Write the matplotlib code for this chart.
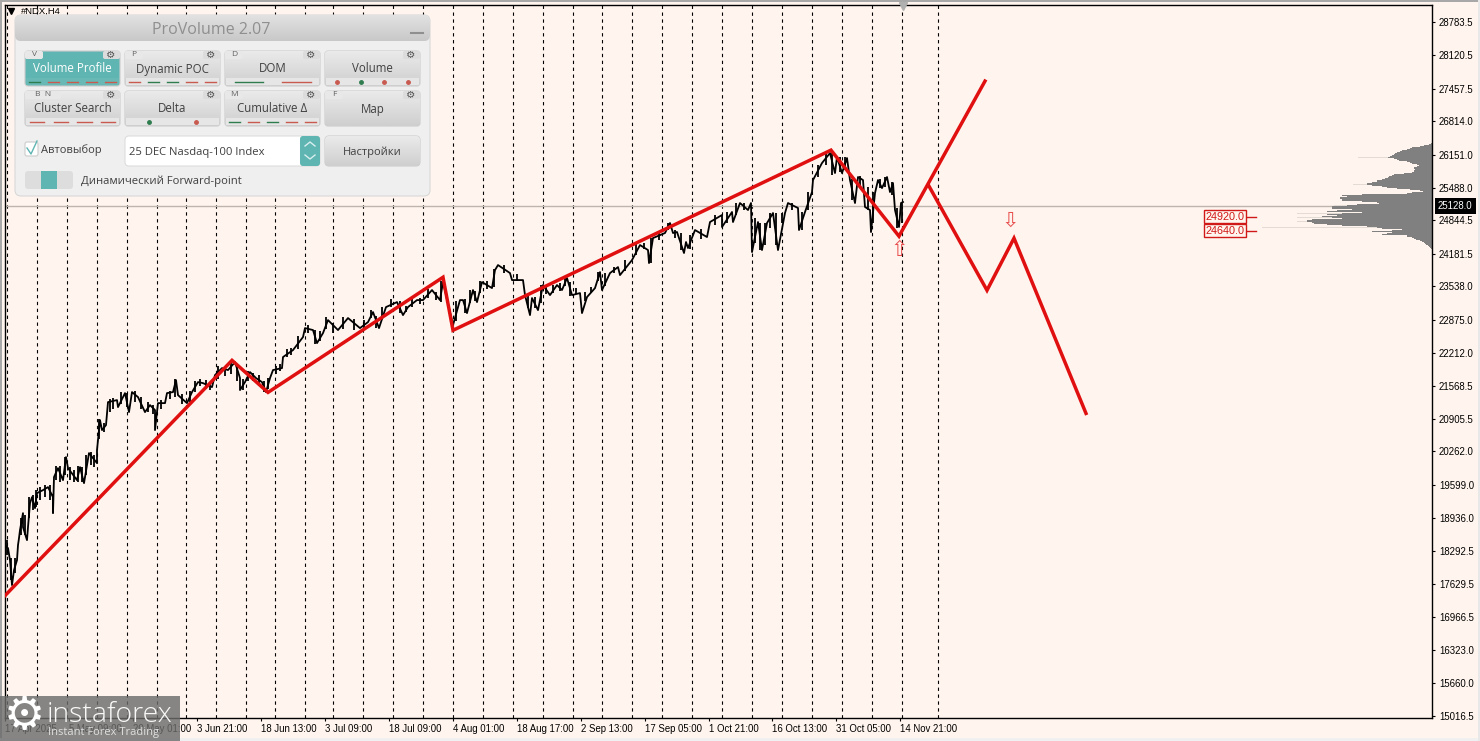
import matplotlib
matplotlib.use("Agg")
import matplotlib.pyplot as plt
from matplotlib.patches import FancyBboxPatch, Rectangle
import numpy as np

plt.rcParams['font.family'] = ['Open Sans', 'DejaVu Sans']

W, H = 1480, 741
BG = '#fff5ee'
AXIS_FONT = 'Liberation Sans'

# H4 closes/extremes: bar position, price
bar_x = [5, 8, 10, 12, 14, 17, 18, 19, 20, 23, 23, 27, 28, 30, 32, 35, 37, 43, 48, 53, 53, 54, 58, 63, 66, 68, 77, 80, 84, 89,
         97, 97, 100, 102, 106, 108, 117, 118, 125, 129, 132, 138, 145, 150, 155, 155, 158, 165, 167, 173, 176, 178, 187, 192,
         198, 203, 212, 215, 222, 228, 235, 240, 240, 245, 250, 256, 262, 266, 270, 273, 282, 283, 293, 303, 305, 313, 317,
         323, 328, 338, 348, 360, 368, 373, 379, 386, 397, 403, 408, 417, 423, 432, 440, 443, 453, 460, 463, 467, 473, 477,
         482, 492, 495, 498, 510, 512, 523, 525, 530, 532, 538, 543, 550, 557, 562, 567, 572, 580, 582, 587, 595, 600, 602,
         610, 618, 620, 632, 640, 648, 649, 653, 665, 670, 673, 677, 684, 686, 688, 695, 707, 710, 722, 722, 732, 733, 740,
         748, 751, 752, 758, 762, 767, 773, 778, 785, 788, 798, 799, 805, 812, 813, 822, 830, 835, 837, 842, 847, 850, 855,
         858, 863, 865, 870, 871, 875, 878, 882, 887, 890, 893, 895, 899, 901, 903]
bar_price = [18402, 18342, 18104, 17608, 17905, 18104, 18402, 18541, 18700, 19037, 18759, 18501, 18759, 19235, 19354, 19136,
             19434, 19494, 19553, 19354, 19037, 19752, 19930, 19692, 20149, 19930, 19692, 19950, 19632, 20228, 20029, 20288,
             20883, 20685, 20784, 21240, 21280, 21141, 21419, 21042, 21439, 21340, 21042, 21181, 21082, 20685, 21220, 21220,
             21419, 21439, 21677, 21379, 21220, 21439, 21637, 21617, 21538, 21776, 21915, 21876, 22034, 21717, 21479, 21637,
             21836, 21717, 21637, 21439, 21717, 21876, 21915, 22134, 22273, 22531, 22709, 22670, 22411, 22610, 22868, 22670,
             22908, 22709, 22828, 23027, 22709, 23126, 23225, 22967, 23126, 23265, 23265, 23464, 23265, 23622, 22769, 23265,
             23265, 23007, 23464, 23225, 23622, 23503, 23860, 23960, 23801, 23662, 23662, 23364, 22967, 23305, 23066, 23563,
             23364, 23563, 23464, 23702, 23364, 23404, 23007, 23325, 23503, 23821, 23464, 23801, 23920, 23761, 24059, 24357,
             24258, 23999, 24496, 24596, 24794, 24596, 24616, 24199, 24417, 24298, 24655, 24516, 24814, 24953, 24715, 25013,
             24814, 25191, 25052, 25191, 24218, 24814, 24258, 24794, 24993, 24258, 24993, 25191, 25092, 24655, 25013, 25409,
             25647, 25985, 26183, 25786, 26104, 25786, 26084, 25647, 25191, 25707, 25647, 25112, 25052, 24615, 25389, 25647,
             25488, 25707, 25409, 25588, 25052, 24715, 25191, 25211]

# extra high-low bars between the points above
wick_x = [7, 11, 15, 21, 25, 29, 33, 36, 40, 45, 50, 56, 60, 65, 70, 74, 78, 82, 86, 91, 94, 99, 104, 110, 113, 121, 127, 135,
          141, 148, 153, 161, 170, 175, 182, 190, 195, 200, 206, 210, 218, 225, 231, 237, 243, 248, 253, 259, 264, 268, 276,
          280, 287, 291, 298, 308, 315, 320, 326, 333, 343, 354, 364, 371, 376, 382, 391, 400, 406, 412, 420, 428, 436, 441,
          456, 465, 470, 475, 480, 487, 494, 504, 517, 528, 535, 541, 546, 553, 560, 565, 570, 576, 585, 591, 598, 605, 614,
          625, 636, 644, 651, 659, 668, 675, 681, 690, 701, 715, 727, 736, 744, 755, 760, 765, 770, 776, 782, 792, 802, 808,
          818, 826, 832, 840, 845, 852, 860, 868, 873, 880, 885, 892, 897, 902]
wick_lo = [18200, 17700, 17850, 18600, 18600, 18950, 19100, 19150, 19300, 19350, 19300, 19700, 19650, 19800, 19700, 19650,
           19650, 19650, 19800, 20000, 19950, 20500, 20650, 21050, 21100, 21200, 21150, 21250, 21100, 21050, 21000, 21100,
           21300, 21350, 21200, 21250, 21450, 21550, 21500, 21480, 21700, 21750, 21800, 21650, 21480, 21650, 21650, 21550,
           21440, 21500, 21800, 21850, 22130, 22180, 22300, 22620, 22400, 22450, 22700, 22620, 22700, 22680, 22720, 22900,
           22720, 22950, 23120, 23000, 23020, 23130, 23180, 23300, 23260, 23230, 22850, 23000, 23200, 23250, 23400, 23480,
           23520, 23800, 23650, 23100, 23100, 23200, 23380, 23400, 23450, 23550, 23350, 23380, 23250, 23400, 23650, 23550,
           23800, 23850, 24150, 24280, 24000, 24450, 24650, 24500, 24250, 24280, 24480, 24750, 24800, 24950, 25050, 24400,
           24250, 24350, 24700, 24350, 24800, 25050, 24650, 25050, 25700, 25950, 25750, 25800, 25850, 25250, 25500, 25050,
           24800, 25480, 25500, 25350, 24700, 24800]
wick_hi = [18500, 18150, 18150, 18950, 19000, 19350, 19400, 19500, 19560, 19600, 19600, 19980, 19980, 20150, 19960, 19900,
           19980, 19950, 20200, 20250, 20200, 20900, 20820, 21300, 21320, 21450, 21420, 21460, 21340, 21250, 21180, 21280,
           21470, 21700, 21400, 21460, 21650, 21700, 21680, 21640, 21950, 21950, 22050, 21950, 21700, 21850, 21820, 21780,
           21650, 21720, 21950, 22000, 22300, 22320, 22560, 22780, 22680, 22650, 22920, 22820, 22930, 22880, 22860, 23060,
           22950, 23130, 23280, 23240, 23140, 23290, 23300, 23480, 23430, 23650, 23250, 23290, 23470, 23450, 23640, 23640,
           23880, 23960, 23780, 23400, 23330, 23560, 23560, 23570, 23600, 23710, 23620, 23500, 23430, 23520, 23830, 23800,
           23930, 24060, 24370, 24400, 24500, 24620, 24800, 24650, 24600, 24560, 24680, 24960, 25010, 25200, 25200, 24900,
           24800, 24800, 25000, 25000, 25000, 25200, 25020, 25400, 25950, 26180, 26220, 26100, 26110, 25660, 25720, 25500,
           25400, 25660, 25710, 25600, 25100, 25210]

# red wave lines
wave1_x = [5, 232, 268, 443, 453, 831, 899, 985]
wave1_price = [17400, 22069, 21433, 23718, 22665, 26241, 24532, 27611]
wave2_x = [929, 987, 1014, 1086]
wave2_price = [25526, 23459, 24493, 21016]

# time separators
sep_x = [7, 37, 67, 97, 127, 157, 186, 216, 246, 275, 305, 333, 363, 393, 423, 453, 483, 513, 543, 573, 602, 632, 662, 692,
         722, 752, 782, 812, 842, 872, 902, 938]

# axis
price_ticks = [28783.5, 28120.5, 27457.5, 26814.0, 26151.0, 25488.0, 24844.5, 24181.5, 23538.0, 22875.0, 22212.0, 21568.5,
               20905.5, 20262.0, 19599.0, 18936.0, 18292.5, 17629.5, 16966.5, 16323.0, 15660.0, 15016.5]
time_ticks = [5, 69, 133, 197, 261, 325, 389, 453, 517, 581, 645, 709, 772, 836, 900]
time_labels = ['17 Apr 2025', '5 May 09:00', '20 May 01:00', '3 Jun 21:00', '18 Jun 13:00', '3 Jul 09:00', '18 Jul 09:00',
               '4 Aug 01:00', '18 Aug 17:00', '2 Sep 13:00', '17 Sep 05:00', '1 Oct 21:00', '16 Oct 13:00', '31 Oct 05:00',
               '14 Nov 21:00']
last_price = 25128.0

# volume profile, one row per price step from the top down
profile_top = 26380
profile_step = 19.85
profile_vol = [1, 3, 8, 12, 20, 22, 25, 30, 32, 35, 37, 38, 40, 42, 44, 38, 35, 33, 25, 22, 20, 15, 13, 15, 18, 18, 17, 18, 18,
               20, 28, 38, 40, 43, 44, 47, 50, 55, 55, 60, 65, 65, 60, 50, 45, 35, 22, 12, 9, 20, 25, 70, 90, 85, 92, 92, 90,
               90, 70, 55, 53, 75, 85, 100, 100, 100, 80, 95, 105, 70, 90, 105, 95, 110, 100, 90, 120, 125, 125, 120, 118,
               105, 90, 65, 55, 50, 30, 40, 60, 40, 45, 50, 25, 25, 20, 18, 16, 12, 10, 8, 7, 6, 4, 3, 2, 1]
# thin pale spikes of the profile
spike_price = [26101, 25567, 25150, 24990, 24910, 24820, 24700]
spike_vol = [74, 79, 98, 135, 135, 135, 170]

level_prices = [24920.0, 24640.0]
arrow_up = (899, 24257)
arrow_down = (1010, 24833)

fig = plt.figure(figsize=(W / 100, H / 100), dpi=100, facecolor=BG)
ax = fig.add_axes([4.5 / W, (H - 718) / H, (1432 - 4.5) / W, (718 - 4.5) / H], facecolor=BG)
ax.set_xlim(4.5, 1432)
ax.set_ylim(14971, 29131)

ax.vlines(sep_x, 14971, 29131, color='black', lw=0.8, linestyles=(0, (3, 3.2)), zorder=1)
ax.axhline(last_price, color='#bdb5ae', lw=1, zorder=1)

prof_prices = profile_top - np.arange(len(profile_vol)) * profile_step
ax.barh(spike_price, -np.array(spike_vol), left=1432, height=profile_step, color='#e4dbd4', lw=0, zorder=2)
ax.barh(prof_prices, -np.array(profile_vol), left=1432, height=profile_step, color='#808080', lw=0, zorder=2)

ax.plot(bar_x, bar_price, color='black', lw=1.3, zorder=3)
ax.vlines(wick_x, wick_lo, wick_hi, color='black', lw=1.3, zorder=3)
ax.plot(wave1_x, wave1_price, color='#e01010', lw=2.5, zorder=4, solid_joinstyle='miter')
ax.plot(wave2_x, wave2_price, color='#e01010', lw=2.5, zorder=4, solid_joinstyle='miter')

ax.text(arrow_up[0], arrow_up[1], '\u21e7', color='#e85050', fontsize=15, ha='center', va='center', family='DejaVu Sans')
ax.text(arrow_down[0], arrow_down[1], '\u21e9', color='#e85050', fontsize=15, ha='center', va='center', family='DejaVu Sans')

for p in level_prices:
    ax.plot([1245, 1256], [p, p], color='#d01818', lw=1)
    ax.text(1225, p, '%.1f' % p, color='#d01818', fontsize=7.8, ha='center', va='center', family=AXIS_FONT,
            bbox=dict(boxstyle='square,pad=0.12', fc=BG, ec='#d01818', lw=1))

ax.yaxis.tick_right()
ax.set_yticks(price_ticks)
ax.set_yticklabels(['%.1f' % p for p in price_ticks], family=AXIS_FONT)
ax.set_xticks(time_ticks)
ax.set_xticklabels(time_labels, ha='left', family=AXIS_FONT)
ax.tick_params(axis='both', length=2.5, width=0.8, labelsize=6.9, pad=2.5)
ax.tick_params(axis='x', pad=1.5)
for s in ax.spines.values():
    s.set_linewidth(1)
ax.text(1438, last_price, '%.1f' % last_price, color='white', fontsize=6.9, va='center', ha='left', clip_on=False, zorder=6,
        family=AXIS_FONT, bbox=dict(boxstyle='square,pad=0.3', fc='black', ec='black', lw=0))

# overlay in pixels for the window chrome, panel and watermark
ov = fig.add_axes([0, 0, 1, 1], facecolor='none')
ov.set_xlim(0, W)
ov.set_ylim(H, 0)
ov.axis('off')


def box(x0, y0, x1, y1, fc, ec='none', r=3, z=10, lw=0.8, fc2=None):
    p = FancyBboxPatch((x0 + r, y0 + r), x1 - x0 - 2 * r, y1 - y0 - 2 * r, boxstyle='round,pad=%d,rounding_size=%d' % (r, r),
                       fc=fc, ec=ec, lw=lw, zorder=z)
    ov.add_patch(p)
    if fc2:
        # vertical gradient clipped to the rounded box
        c1 = np.array(matplotlib.colors.to_rgb(fc))
        c2 = np.array(matplotlib.colors.to_rgb(fc2))
        g = np.linspace(0, 1, 32)[:, None, None] * (c2 - c1) + c1
        im = ov.imshow(g, extent=(x0, x1, y1, y0), aspect='auto', zorder=z + 0.1)
        im.set_clip_path(p)
        ov.set_xlim(0, W)
        ov.set_ylim(H, 0)


def rect(x0, y0, x1, y1, fc, z=11, alpha=None):
    ov.add_patch(Rectangle((x0, y0), x1 - x0, y1 - y0, fc=fc, ec='none', zorder=z, alpha=alpha))


# window frame
rect(0, 0, W, 2, '#a8a8a8', z=2)
rect(0, 0, 2, H, '#a8a8a8', z=2)
rect(0, 738, W, H, '#f0f0f0', z=2)
rect(1478, 0, W, H, '#e8e8e8', z=2)

ov.plot([11], [11], marker='v', color='black', ms=4, zorder=3)
ov.text(21, 11.5, '#NDX,H4', fontsize=6.8, va='center', color='black', zorder=3, family=AXIS_FONT)
ov.plot([903], [6], marker='v', color='#b0b0b0', ms=6, zorder=3)

# ProVolume panel
box(15, 15, 430, 196, '#efefef', ec='#d8d8d8', r=6)
box(15, 15, 430, 41, '#e2e2e2', r=6, z=11, fc2='#c8c8c8')
ov.text(211, 30, 'ProVolume 2.07', color='#8f8f8f', fontsize=11.5, ha='center', va='center', zorder=12)
ov.plot([411, 423], [33, 33], color='#8f8f8f', lw=1.5, zorder=12)

GREEN, RED = '#2f7d4f', '#c85a50'
TEAL = '#5fb5b2'
buttons = [
    (25, 120, 51, 'Volume Profile', 'V', 'GRRRR', 'line', True),
    (125, 220, 51, 'Dynamic POC', 'P', 'RGGRR', 'line', False),
    (225, 320, 51, 'DOM', 'D', 'GR', 'line', False),
    (325, 420, 51, 'Volume', '', 'RGRR', 'dot', False),
    (25, 120, 91, 'Cluster Search', 'B  N', 'RRRR', 'line', False),
    (125, 220, 91, 'Delta', '', 'GR', 'dot', False),
    (225, 320, 91, 'Cumulative \u0394', 'M', 'GRGRR', 'line', False),
    (325, 420, 91, 'Map', 'F', '', 'line', False),
]
for x0, x1, y0, name, key, marks, kind, active in buttons:
    if active:
        box(x0, y0, x1, y0 + 35, TEAL, ec='#cccccc', r=3, z=12)
    else:
        box(x0, y0, x1, y0 + 35, '#eaeaea', ec='#cccccc', r=3, z=12, fc2='#cfcfcf')
    ov.text((x0 + x1) / 2, y0 + 18, name, color='white' if active else '#404040', fontsize=8.3, ha='center', va='center', zorder=14)
    box(x1 - 17, y0, x1, y0 + 8, '#dcdcdc', r=2, z=13)
    ov.text(x1 - 9, y0 + 4, '\u2699', color='#555555', fontsize=7.5, ha='center', va='center', zorder=14, family='DejaVu Sans')
    if key:
        tab_w = 36 if key == 'B  N' else 18
        box(x0, y0, x0 + tab_w, y0 + 8, '#e8e8e8', r=2, z=13)
        ov.text(x0 + tab_w / 2, y0 + 4, key, color='#606060', fontsize=6, va='center', ha='center', zorder=14)
    if marks:
        rect(x0 + 1, y0 + 27, x1 - 1, y0 + 34, '#68b9b6' if active else '#e6e6e6', z=13)
        n = len(marks)
        step = (x1 - x0) / n
        for i, m in enumerate(marks):
            cx = x0 + step * (i + 0.5)
            col = GREEN if m == 'G' else RED
            if kind == 'line':
                ov.plot([cx - step * 0.3, cx + step * 0.3], [y0 + 30.5, y0 + 30.5], color=col, lw=1, zorder=14)
            else:
                ov.plot([cx], [y0 + 30.5], marker='o', color=col, ms=2.5, zorder=14)

box(25, 142, 38, 156, '#ffffff', ec='#cccccc', r=2, z=12)
ov.plot([27, 31, 37], [148, 154, 141], color=TEAL, lw=1, zorder=13)
ov.text(41, 150, 'Автовыбор', color='#404040', fontsize=8, va='center', zorder=13)
box(125, 136, 320, 166, '#ffffff', ec='#dddddd', r=4, z=12)
box(300, 136, 320, 166, TEAL, r=3, z=13)
ov.plot([305, 310, 315], [146, 142, 146], color='#d8eeee', lw=1, zorder=14)
ov.plot([305, 310, 315], [155, 159, 155], color='#d8eeee', lw=1, zorder=14)
ov.text(129, 152, '25 DEC Nasdaq-100 Index', color='#404040', fontsize=8.1, va='center', zorder=14)
box(325, 136, 420, 166, '#eaeaea', ec='#cccccc', r=4, z=12, fc2='#cfcfcf')
ov.text(372, 152, 'Настройки', color='#404040', fontsize=8, ha='center', va='center', zorder=14)
box(25, 171, 73, 189, '#dddddd', r=3, z=12)
rect(41, 171, 57, 189, TEAL, z=13)
ov.text(81, 181, 'Динамический Forward-point', color='#404040', fontsize=8.1, va='center', zorder=13)

# watermark
rect(0, 696, 180, H, '#6c6c6c', z=20, alpha=0.82)
ov.text(24, 716, '\u2699', color='white', fontsize=33, ha='center', va='center', zorder=21, family='DejaVu Sans')
ov.text(47, 715, 'instaforex', color='white', fontsize=20.5, va='center', zorder=21, alpha=0.95, family='Open Sans', fontweight='light')
ov.text(48, 732, 'Instant Forex Trading', color='#e0e0e0', fontsize=8, va='center', zorder=21)

fig.savefig('out.png', dpi=100, facecolor=BG)
